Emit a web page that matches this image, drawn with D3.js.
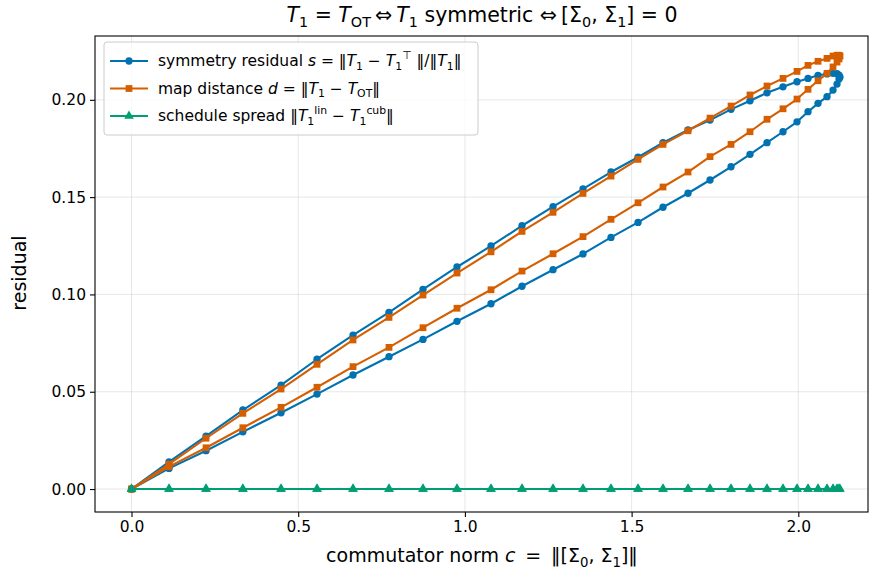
<!DOCTYPE html>
<html><head><meta charset="utf-8">
<script src="https://cdn.jsdelivr.net/npm/d3@7"></script>
<style>body{margin:0;background:#fff}svg{display:block}text{font-family:"DejaVu Sans",sans-serif;fill:#000}</style>
</head><body>
<svg id="chart" width="869" height="572"></svg>
<script>
// commutator norm sweep (outbound half, peak last)
const cSweep = [0, 0.1125, 0.2235, 0.334, 0.4485, 0.5564, 0.6644, 0.7723, 0.8743, 0.9763, 1.0783, 1.1713, 1.2643, 1.3542, 1.4382, 1.5192, 1.5942, 1.6692, 1.7352, 1.7982, 1.8551, 1.9061, 1.9541, 1.9961, 2.0291, 2.0591, 2.0861, 2.1041, 2.1161, 2.1221, 2.1251];
// symmetry residual: outbound (upper) branch, incl. peak
const symUpper = [0, 0.0140, 0.0272, 0.0406, 0.0534, 0.0667, 0.0791, 0.0908, 0.1026, 0.1141, 0.1249, 0.1353, 0.1451, 0.1542, 0.1629, 0.1705, 0.1780, 0.1845, 0.1896, 0.1951, 0.1995, 0.2036, 0.2067, 0.2093, 0.2110, 0.2126, 0.2133, 0.2136, 0.2134, 0.2127, 0.2117];
// symmetry residual: return (lower) branch, same c values without the peak
const symLower = [0, 0.0106, 0.0197, 0.0294, 0.0392, 0.0488, 0.0586, 0.0680, 0.0769, 0.0862, 0.0952, 0.1042, 0.1127, 0.1208, 0.1293, 0.1370, 0.1448, 0.1520, 0.1588, 0.1656, 0.1720, 0.1780, 0.1836, 0.1887, 0.1939, 0.1982, 0.2016, 0.2050, 0.2081, 0.2107];
// map distance
const distUpper = [0, 0.0128, 0.0261, 0.0389, 0.0514, 0.0641, 0.0766, 0.0882, 0.0997, 0.1110, 0.1219, 0.1324, 0.1422, 0.1519, 0.1608, 0.1694, 0.1771, 0.1841, 0.1906, 0.1968, 0.2025, 0.2071, 0.2110, 0.2146, 0.2177, 0.2198, 0.2213, 0.2225, 0.2229, 0.2229, 0.2225];
const distLower = [0, 0.0115, 0.0212, 0.0315, 0.0420, 0.0523, 0.0629, 0.0728, 0.0829, 0.0929, 0.1024, 0.1120, 0.1209, 0.1297, 0.1386, 0.1471, 0.1552, 0.1629, 0.1708, 0.1771, 0.1836, 0.1900, 0.1954, 0.2004, 0.2054, 0.2098, 0.2136, 0.2169, 0.2194, 0.2210];
// schedule spread (zero everywhere)
const spreadUpper = cSweep.map(() => 0);
const spreadLower = cSweep.slice(0, -1).map(() => 0);

const xTicks = [0, 0.5, 1.0, 1.5, 2.0];
const yTicks = [0, 0.05, 0.10, 0.15, 0.20];

function loop(up, low) {
  const pts = up.map((v, i) => ({c: cSweep[i], v}));
  for (let i = low.length - 1; i >= 0; i--) pts.push({c: cSweep[i], v: low[i]});
  return pts;
}
const series = [
  {name: "sym", color: "#0072B2", marker: "circle", pts: loop(symUpper, symLower)},
  {name: "dist", color: "#D55E00", marker: "square", pts: loop(distUpper, distLower)},
  {name: "spread", color: "#009E73", marker: "triangle", pts: loop(spreadUpper, spreadLower)}
];

const svg = d3.select("#chart");
const L = 95, R = 868, T = 36, B = 512;
const x = d3.scaleLinear().domain([-0.1095, 2.209]).range([L, R]);
const y = d3.scaleLinear().domain([-0.0118, 0.2328]).range([B, T]);

// grid
const g = svg.append("g");
g.selectAll(".gx").data(xTicks).join("line").attr("x1", d => x(d)).attr("x2", d => x(d)).attr("y1", T).attr("y2", B).attr("stroke", "#b0b0b0").attr("stroke-opacity", 0.3).attr("stroke-width", 1);
g.selectAll(".gy").data(yTicks).join("line").attr("y1", d => y(d)).attr("y2", d => y(d)).attr("x1", L).attr("x2", R).attr("stroke", "#b0b0b0").attr("stroke-opacity", 0.3).attr("stroke-width", 1);

// axes
const xa = svg.append("g").attr("transform", `translate(0,${B})`).call(d3.axisBottom(x).tickValues(xTicks).tickFormat(d3.format(".1f")).tickSizeOuter(0).tickSize(5).tickPadding(4));
const ya = svg.append("g").attr("transform", `translate(${L},0)`).call(d3.axisLeft(y).tickValues(yTicks).tickFormat(d3.format(".2f")).tickSizeOuter(0).tickSize(5).tickPadding(4));
[xa, ya].forEach(a => { a.select(".domain").remove(); a.selectAll("text").style("font-family", "DejaVu Sans").style("font-size", "15.5px"); a.selectAll("line").attr("stroke", "#000").attr("stroke-width", 1.1); });

// frame
svg.append("rect").attr("x", L).attr("y", T).attr("width", R - L).attr("height", B - T).attr("fill", "none").attr("stroke", "#000").attr("stroke-width", 1.1);

// data
const line = d3.line().x(d => x(d.c)).y(d => y(d.v));
const sym = {circle: d3.symbol(d3.symbolCircle, 42), square: d3.symbol(d3.symbolSquare, 46), triangle: d3.symbol(d3.symbolTriangle, 40)};
series.forEach(s => {
  const sg = svg.append("g");
  sg.append("path").attr("d", line(s.pts)).attr("fill", "none").attr("stroke", s.color).attr("stroke-width", 2.1).attr("stroke-linejoin", "round");
  sg.selectAll("path.m").data(s.pts).join("path").attr("class", "m").attr("d", sym[s.marker]).attr("transform", d => `translate(${x(d.c)},${y(d.v)})`).attr("fill", s.color);
});

// rich text helper
function rich(sel, segs, fs) {
  let off = 0;
  segs.forEach(sg => {
    const t = sel.append("tspan").text(sg.t);
    let target = 0, size = fs;
    if (sg.sub) { target = 0.25 * fs; size = 0.7 * fs; }
    if (sg.sup) { target = -0.45 * fs; size = 0.7 * fs; }
    t.attr("dy", target - off).style("font-size", size + "px");
    if (sg.i) t.style("font-style", "italic");
    off = target;
  });
}

// title
const sp = "\u2009";
const title = svg.append("text").attr("x", 482).attr("y", 22).attr("text-anchor", "middle").style("font-size", "20.5px");
rich(title, [{t: "T", i: 1}, {t: "1", sub: 1}, {t: " = "}, {t: "T", i: 1}, {t: "OT", sub: 1}, {t: sp + "⇔" + sp}, {t: "T", i: 1}, {t: "1", sub: 1}, {t: " symmetric  ⇔" + sp + "[Σ"}, {t: "0", sub: 1}, {t: ", Σ"}, {t: "1", sub: 1}, {t: "] = 0"}], 20.5);

// axis labels
const xl = svg.append("text").attr("x", 482).attr("y", 562).attr("text-anchor", "middle").style("font-size", "19px");
rich(xl, [{t: "commutator norm "}, {t: "c", i: 1}, {t: sp + " = " + sp + "‖[Σ"}, {t: "0", sub: 1}, {t: ", Σ"}, {t: "1", sub: 1}, {t: "]‖"}], 19);
svg.append("text").attr("transform", "translate(26,273) rotate(-90)").attr("text-anchor", "middle").style("font-size", "19px").text("residual");

// legend
const lg = svg.append("g");
lg.append("rect").attr("x", 104).attr("y", 42).attr("width", 374).attr("height", 93).attr("rx", 3).attr("fill", "#fff").attr("fill-opacity", 0.8).attr("stroke", "#ccc").attr("stroke-width", 1);
const legendLabels = [
  [{t: "symmetry residual "}, {t: "s", i: 1}, {t: " = ‖"}, {t: "T", i: 1}, {t: "1", sub: 1}, {t: " − "}, {t: "T", i: 1}, {t: "1", sub: 1}, {t: "⊤", sup: 1}, {t: " ‖/‖"}, {t: "T", i: 1}, {t: "1", sub: 1}, {t: "‖"}],
  [{t: "map distance "}, {t: "d", i: 1}, {t: " = ‖"}, {t: "T", i: 1}, {t: "1", sub: 1}, {t: " − "}, {t: "T", i: 1}, {t: "OT", sub: 1}, {t: "‖"}],
  [{t: "schedule spread ‖"}, {t: "T", i: 1}, {t: "1", sub: 1}, {t: "lin", sup: 1}, {t: " − "}, {t: "T", i: 1}, {t: "1", sub: 1}, {t: "cub", sup: 1}, {t: "‖"}]
];
series.forEach((s, i) => {
  const yy = 61 + i * 27.5;
  lg.append("line").attr("x1", 110).attr("x2", 148).attr("y1", yy).attr("y2", yy).attr("stroke", s.color).attr("stroke-width", 2.1);
  lg.append("path").attr("d", sym[s.marker]).attr("transform", `translate(129,${yy})`).attr("fill", s.color);
  const t = lg.append("text").attr("x", 158).attr("y", yy + 5).style("font-size", "15.5px");
  rich(t, legendLabels[i], 15.5);
});
</script>
</body></html>
